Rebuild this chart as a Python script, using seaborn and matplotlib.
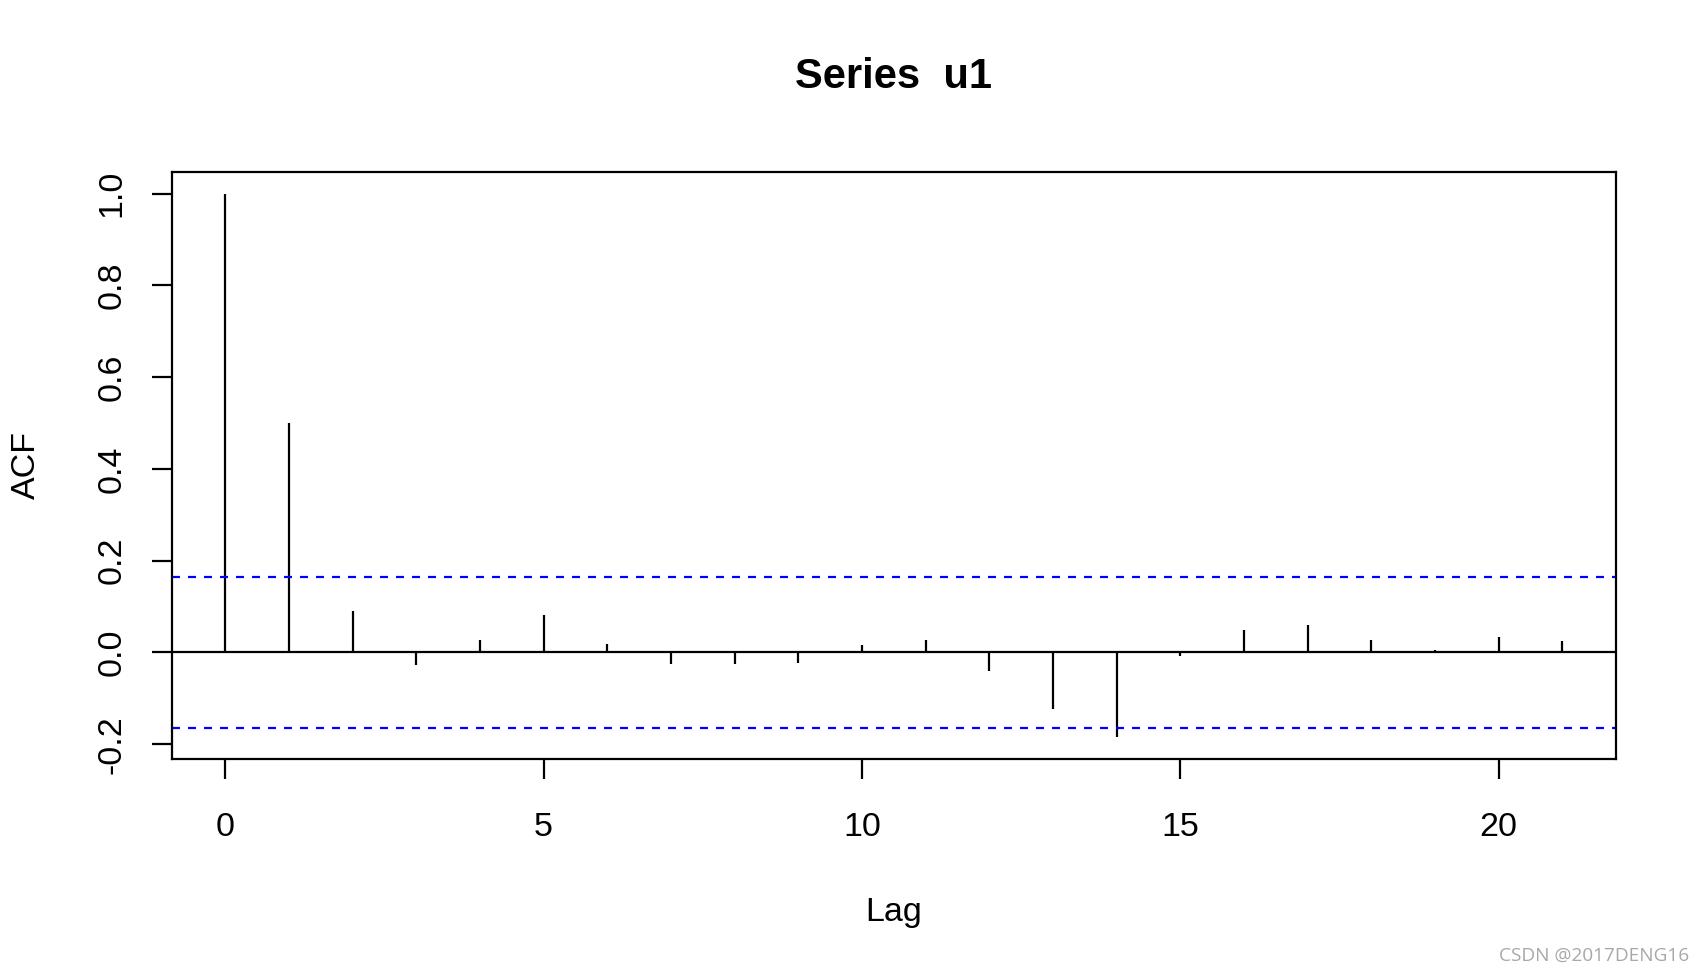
import numpy as np
import matplotlib
matplotlib.use("Agg")
import matplotlib.pyplot as plt
import seaborn as sns

# ACF values
lags = [0, 1, 2, 3, 4, 5, 6, 7, 8, 9, 10, 11, 12, 13, 14, 15, 16, 17, 18, 19, 20, 21]
acf = [1.0, 0.499, 0.091, -0.027, 0.026, 0.082, 0.019, -0.026, -0.026, -0.023, 0.015,
       0.028, -0.041, -0.124, -0.185, -0.009, 0.049, 0.060, 0.028, 0.006, 0.034, 0.025]
conf = 0.165
x_ticks = [0, 5, 10, 15, 20]
y_ticks = [-0.2, 0.0, 0.2, 0.4, 0.6, 0.8, 1.0]

sns.set_theme(style="white")
plt.rcParams["font.family"] = ["Liberation Sans", "DejaVu Sans"]

W, H = 1705, 974
fig = plt.figure(figsize=(W / 100, H / 100), dpi=100)
ax = fig.add_axes([171.8 / W, 1 - 759 / H, 1444 / W, 587.2 / H])

ax.vlines(lags, 0, acf, color="black", linewidth=1.6)
ax.axhline(0, color="black", linewidth=1.6)
for c in (conf, -conf):
    ax.axhline(c, color="#0000ff", linewidth=1.6, linestyle=(0, (3.6, 3.6)))

# R's default 4% padding
ext = 0.04 * (max(lags) - min(lags))
ax.set_xlim(min(lags) - ext, max(lags) + ext)
yext = 0.04 * (max(acf) - min(acf))
ax.set_ylim(min(acf) - yext, max(acf) + yext)

ax.set_xticks(x_ticks)
ax.set_xticklabels([str(t) for t in x_ticks])
ax.set_yticks(y_ticks)
ax.set_yticklabels([f"{t:.1f}" for t in y_ticks], rotation=90, va="center")

ax.tick_params(axis="both", direction="out", length=14.4, width=1.6,
               color="black", labelsize=24.5, labelcolor="black", bottom=True, left=True)
ax.tick_params(axis="x", pad=23.4)
ax.tick_params(axis="y", pad=17.5)

for s in ax.spines.values():
    s.set_color("black")
    s.set_linewidth(1.6)
ax.grid(False)

ax.set_xlabel("Lag", fontsize=24.5, color="black")
ax.set_ylabel("ACF", fontsize=24.5, color="black")
ax.xaxis.set_label_coords(0.5, (759 - 912) / 587.2)
ax.yaxis.set_label_coords((26 - 171.8) / 1444, 0.5)
ax.xaxis.label.set_va("center")
ax.yaxis.label.set_va("center")

fig.text(893.8 / W, 1 - 77.3 / H, "Series  u1", fontsize=30, fontweight="bold",
         ha="center", va="center", color="black")

fig.text(1689 / W, 1 - 956 / H, "CSDN @2017DENG16", fontsize=13.7, color="#a8a8a8",
         ha="right", va="center", family=["Open Sans", "DejaVu Sans"])

fig.savefig("out.png", dpi=100)
